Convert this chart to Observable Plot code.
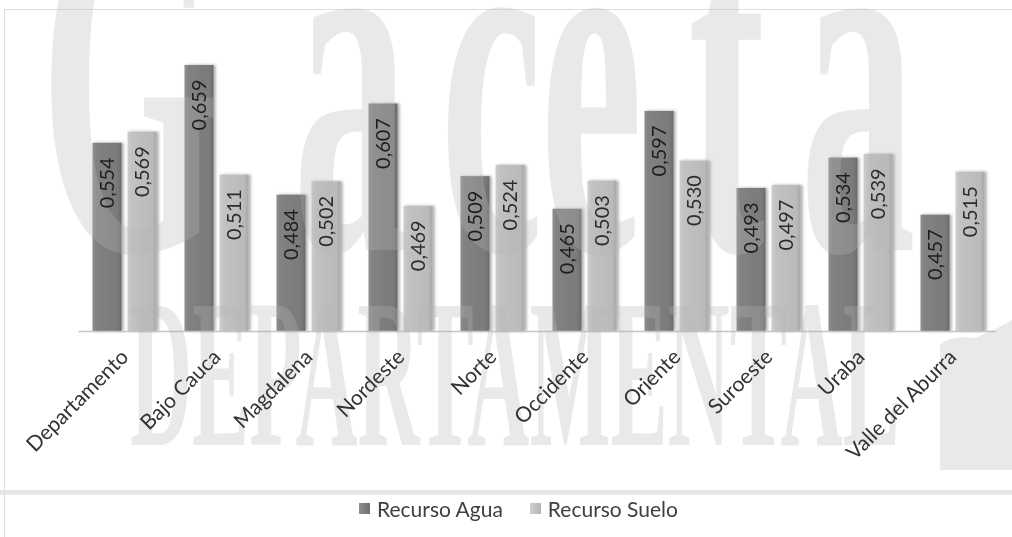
<!DOCTYPE html>
<html>
<head>
<meta charset="utf-8">
<script src="https://cdn.jsdelivr.net/npm/d3@7"></script>
<script src="https://cdn.jsdelivr.net/npm/@observablehq/plot@0.6"></script>
<style>
  html, body { margin: 0; padding: 0; background: #fff; }
  body { width: 1012px; height: 537px; position: relative; overflow: hidden; font-family: Lato, "Open Sans", sans-serif; }
  #chart { position: absolute; left: 0; top: 0; }
  #frameTop { position: absolute; left: 4px; top: 9px; width: 1010px; height: 0; border-top: 1.5px solid #dedede; }
  #frameLeft { position: absolute; left: 4px; top: 9px; width: 0; height: 540px; border-left: 1.5px solid #dedede; }
  #band { position: absolute; left: 0; top: 490px; width: 1012px; height: 5px; background: #e6e6e6; }
  #legend { position: absolute; left: 359px; top: 494px; height: 28px; display: flex; align-items: center; font-size: 21px; color: #404040; }
  .item { display: flex; align-items: center; margin-right: 27px; }
  .sw { width: 11px; height: 11px; margin-right: 7px; }
</style>
</head>
<body>
<div id="frameTop"></div>
<div id="frameLeft"></div>
<div id="chart"></div>
<div id="band"></div>
<div id="legend"></div>
<script>
// ---- data ----
const categories = ["Departamento", "Bajo Cauca", "Magdalena", "Nordeste", "Norte", "Occidente", "Oriente", "Suroeste", "Uraba", "Valle del Aburra"];
const series = ["Recurso Agua", "Recurso Suelo"];
const agua  = [0.554, 0.659, 0.484, 0.607, 0.509, 0.465, 0.597, 0.493, 0.534, 0.457];
const suelo = [0.569, 0.511, 0.502, 0.469, 0.524, 0.503, 0.530, 0.497, 0.539, 0.515];
const yDomain = [0.3, 0.7];
const watermark = ["Gaceta", "DEPARTAMENTAL"];

const data = [];
categories.forEach((c, i) => {
  data.push({cat: c, serie: series[0], value: agua[i]});
  data.push({cat: c, serie: series[1], value: suelo[i]});
});
const fmt = v => d3.format(".3f")(v).replace(".", ",");
const fills = {"Recurso Agua": "url(#gAgua)", "Recurso Suelo": "url(#gSuelo)"};

const marks = [];
series.forEach(s => {
  marks.push(Plot.barY(data.filter(d => d.serie === s), {
    fx: "cat", x: "serie", y1: () => yDomain[0], y2: "value", fill: fills[s]
  }));
});
marks.push(Plot.text(data, {
  fx: "cat", x: "serie", y: "value", text: d => fmt(d.value),
  rotate: -90, textAnchor: "end", dy: 14, fontSize: 20,
  fill: d => d.serie === series[0] ? "#1e1e1e" : "#2c2c2c"
}));

const plot = Plot.plot({
  width: 1012,
  height: 480,
  marginTop: 34.6,
  marginBottom: 149,
  marginLeft: 78.5,
  marginRight: 13.5,
  style: {fontFamily: "Lato, 'Open Sans', sans-serif", fontSize: "21px", color: "#333", background: "transparent", overflow: "visible"},
  fx: {domain: categories, paddingInner: 0.29, paddingOuter: 0.145, axis: "bottom", label: null, tickRotate: -45, tickSize: 0, tickPadding: 22},
  x: {domain: series, paddingInner: 0.16, paddingOuter: 0, axis: null},
  y: {domain: yDomain, axis: null},
  marks
});
document.getElementById("chart").appendChild(plot);

const svg = d3.select(plot);
const defs = svg.insert("defs", ":first-child");
function grad(id, stops) {
  const g = defs.append("linearGradient").attr("id", id).attr("x1", 0).attr("x2", 1).attr("y1", 0).attr("y2", 0);
  stops.forEach(([o, c]) => g.append("stop").attr("offset", o).attr("stop-color", c));
}
grad("gAgua", [[0, "#8e8e8e"], [0.15, "#828282"], [0.85, "#7a7a7a"], [1, "#6a6a6a"]]);
grad("gSuelo", [[0, "#cdcdcd"], [0.15, "#c2c2c2"], [0.85, "#bababa"], [1, "#a8a8a8"]]);
const f = defs.append("filter").attr("id", "sh").attr("x", "-20%").attr("y", "-5%").attr("width", "150%").attr("height", "115%");
f.append("feDropShadow").attr("dx", 2).attr("dy", 0).attr("stdDeviation", 1.5).attr("flood-color", "#000").attr("flood-opacity", 0.35);
svg.selectAll("g[aria-label='bar']").attr("filter", "url(#sh)");

// baseline across the category band
const fxS = plot.scale("fx"), yS = plot.scale("y");
const yb = yS.apply(yDomain[0]);
svg.append("line")
  .attr("x1", fxS.range[0]).attr("x2", fxS.range[1] - 3)
  .attr("y1", yb + 0.5).attr("y2", yb + 0.5)
  .attr("stroke", "#c4c4c4").attr("stroke-width", 1.5);

// watermark overlay (condensed serif)
const wm = svg.append("g").attr("pointer-events", "none").attr("opacity", 0.3)
  .attr("fill", "#b4b4b4").attr("font-family", "'Liberation Serif', serif").attr("font-weight", "bold")
  .attr("text-anchor", "start");
const sx = 0.45;
const glyphX = [40, 293, 440, 540, 688, 800].map(v => v / sx).join(" ");
wm.append("text").attr("transform", `scale(${sx},1)`).attr("x", glyphX).attr("y", 250)
  .attr("font-size", 515).attr("text-anchor", "start").text(watermark[0]);
wm.append("text").attr("x", 130).attr("y", 445).attr("font-size", 212).attr("text-anchor", "start")
  .attr("textLength", 770).attr("lengthAdjust", "spacingAndGlyphs").text(watermark[1]);
wm.append("path").attr("d", "M940,470 L940,345 Q950,335 975,338 Q995,330 1012,320 L1012,470 Z");

// keep labels crisp above the watermark
svg.selectAll("g[aria-label='text']").raise();
svg.selectAll("g[aria-label='fx-axis tick label']").raise();

// legend
const leg = d3.select("#legend");
const swatch = {"Recurso Agua": "linear-gradient(90deg,#8e8e8e,#707070)", "Recurso Suelo": "linear-gradient(90deg,#d0d0d0,#b4b4b4)"};
series.forEach(s => {
  const it = leg.append("div").attr("class", "item");
  it.append("div").attr("class", "sw").style("background", swatch[s]);
  it.append("span").text(s);
});
</script>
</body>
</html>
